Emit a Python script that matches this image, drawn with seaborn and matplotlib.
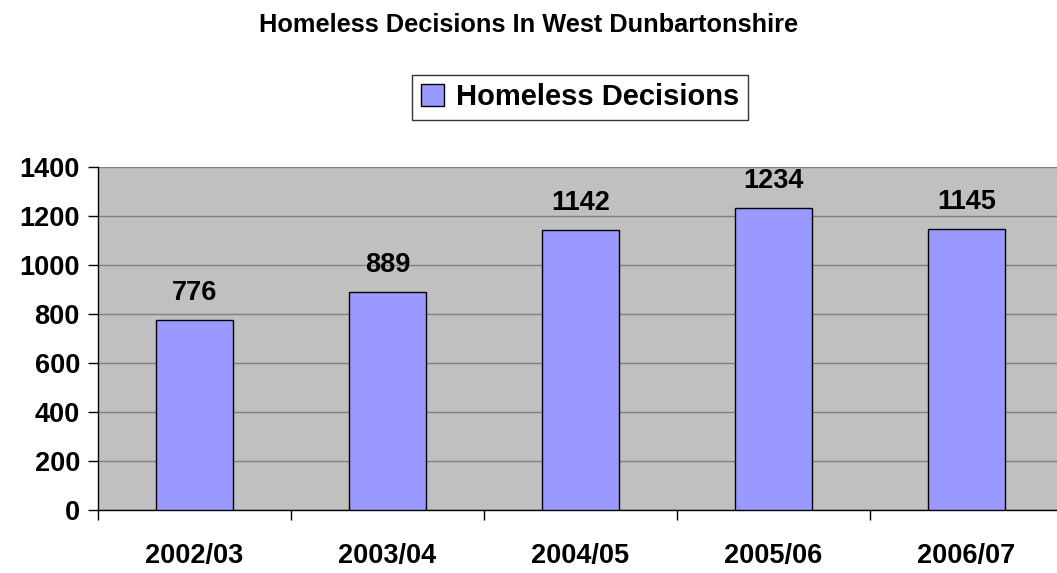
import matplotlib
matplotlib.use("Agg")
import matplotlib.pyplot as plt
import seaborn as sns
import pandas as pd

# ── Data ───────────────────────────────────────────────────────────────────────
periods   = ["2002/03", "2003/04", "2004/05", "2005/06", "2006/07"]
decisions = [776, 889, 1142, 1234, 1145]
series    = "Homeless Decisions"

df = pd.DataFrame({"period": periods, "decisions": decisions})

sns.set_style("white")
plt.rcParams["font.family"] = ["Liberation Sans", "DejaVu Sans"]
plt.rcParams["text.color"] = "black"
plt.rcParams["xtick.color"] = "black"
plt.rcParams["ytick.color"] = "black"

fig = plt.figure(figsize=(10.57, 5.73), dpi=100)
ax = fig.add_axes([0.0927, 0.110, 0.913, 0.5986])
ax.set_facecolor("#C0C0C0")

sns.barplot(data=df, x="period", y="decisions", color="#9999FF",
            edgecolor="black", linewidth=1, width=0.4, saturation=1,
            label=series, ax=ax, zorder=3)

ax.set_xlim(-0.5, 4.5)
ax.set_ylim(0, 1400)
ax.set_yticks(range(0, 1401, 200))
ax.grid(True, axis="y", color="#808080", lw=1, zorder=0)
ax.set_axisbelow(True)
for s in ["top", "right"]:
    ax.spines[s].set_visible(False)
for s in ["left", "bottom"]:
    ax.spines[s].set_color("black")
    ax.spines[s].set_linewidth(1)

# category separators as minor ticks
ax.set_xticks([i + 0.5 for i in range(-1, 5)], minor=True)
ax.tick_params(axis="x", which="major", length=0, pad=23.5)
ax.tick_params(axis="x", which="minor", length=7, width=1, color="black",
               direction="out", bottom=True)
ax.tick_params(axis="y", length=7, width=1, color="black", direction="out",
               left=True, pad=6)
for lab in ax.get_xticklabels() + ax.get_yticklabels():
    lab.set_fontsize(19.5)
    lab.set_fontweight("bold")
    lab.set_color("black")
ax.set_xlabel("")
ax.set_ylabel("")

for i, v in enumerate(decisions):
    ax.annotate(f"{v}", (i, v), xytext=(0, 14.5), textcoords="offset points",
                ha="center", va="baseline", fontsize=19.5, fontweight="bold",
                color="black")

fig.text(0.5, 0.956, "Homeless Decisions In West Dunbartonshire",
         ha="center", va="center", fontsize=18.3, fontweight="bold",
         color="black")

leg = ax.legend(loc="center", bbox_to_anchor=(0.4995, 1.203), frameon=True,
                fancybox=False, prop={"size": 21, "weight": "bold"},
                handlelength=0.8, handleheight=0.8, handletextpad=0.4,
                borderpad=0.3, borderaxespad=0)
leg.get_frame().set_edgecolor("black")
leg.get_frame().set_linewidth(1)
for t in leg.get_texts():
    t.set_color("black")

plt.savefig("out.png", dpi=100)
plt.close()
